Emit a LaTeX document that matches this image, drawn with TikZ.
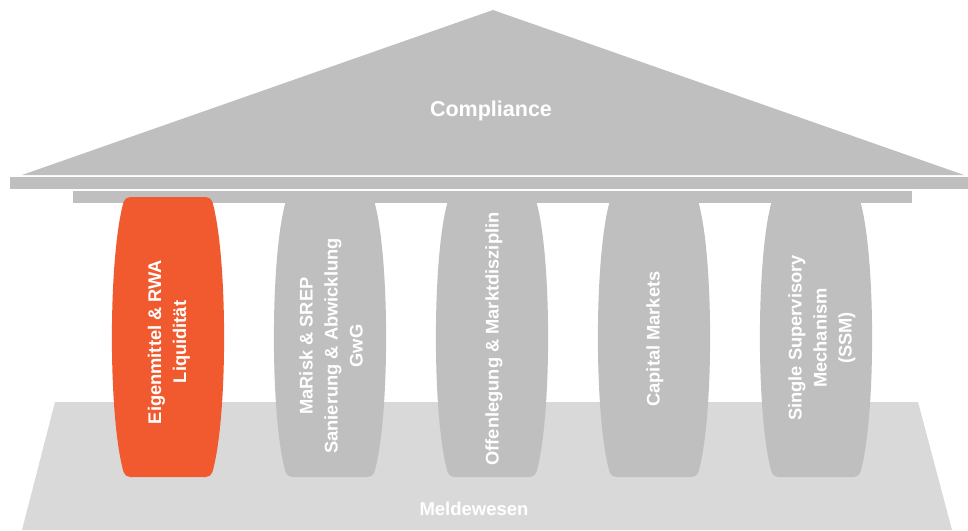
\documentclass[tikz,border=0pt]{standalone}
\usepackage{fontspec}
\setmainfont{Liberation Sans}
\usepackage{tikz}
\usetikzlibrary{shapes}
\definecolor{roofgray}{HTML}{BFBFBF}
\definecolor{basegray}{HTML}{D9D9D9}
\definecolor{accent}{HTML}{F15A2F}
\tikzstyle{roof} = [fill=roofgray, draw=none]
\tikzstyle{plinth} = [fill=basegray, draw=none]
\tikzstyle{headtext} = [text=white, font=\bfseries\fontsize{21.5}{25}\selectfont, inner sep=0pt]
\tikzstyle{basetext} = [text=white, font=\bfseries\fontsize{18.5}{22}\selectfont, inner sep=0pt]
\tikzstyle{pillartext} = [text=white, font=\bfseries\fontsize{18.3}{25}\selectfont,
align=center, rotate=90, inner sep=0pt]
\newcommand{\pillar}[2][roofgray]{ %
  % One barrel shaped pillar, centred at x = #2.
  \path[fill=#1, rounded corners=5pt] (#2,197) -- (#2+43,197)
    .. controls (#2+60,257) and (#2+60,418) .. (#2+43,477)
    -- (#2-43,477)
    .. controls (#2-60,418) and (#2-60,257) .. (#2-43,197)
    -- cycle ;%
}

\begin{document}
\begin{tikzpicture}[x=1pt,y=-1pt]
                \useasboundingbox (0,0) rectangle (968,530);

                \path[plinth] (55,402) -- (918,402) -- (952,530) -- (22,530) -- cycle ; %

                \path[roof] (73,191) rectangle (912,203) ; %
                \path[roof] (10,177) rectangle (968,189) ; %
                \path[roof] (22,175) -- (493,10) -- (964,175) -- cycle ; %

                \pillar[accent]{168}
                \pillar{330}
                \pillar{492}
                \pillar{654}
                \pillar{816}

                \node[headtext] (compliance) at (491,111) {Compliance}; %
                \node[basetext] (meldewesen) at (474,509) {Meldewesen}; %

                \node[pillartext] (eigen) at (169,342) {Eigenmittel \& RWA\\Liquidität}; %
                \node[pillartext] (marisk) at (331,346) {MaRisk \& SREP\\Sanierung \& Abwicklung\\GwG}; %
                \node[pillartext] (offen) at (494,339) {Offenlegung \& Marktdisziplin}; %
                \node[pillartext] (capital) at (655,339) {Capital Markets}; %
                \node[pillartext] (ssm) at (822,338) {Single Supervisory\\Mechanism\\(SSM)}; %
            \end{tikzpicture}
\end{document}
